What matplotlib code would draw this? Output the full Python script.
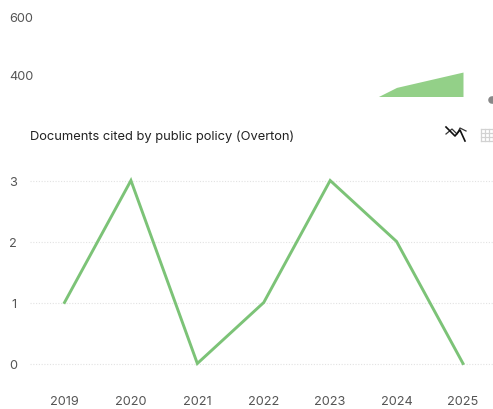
import matplotlib
matplotlib.use('Agg')
from matplotlib import pyplot as plt

plt.rcParams['font.family'] = ['Inter', 'DejaVu Sans']

years = [2019, 2020, 2021, 2022, 2023, 2024, 2025]
documents = [1, 3, 0, 1, 3, 2, 0]
y_ticks = [0, 1, 2, 3]

# the chart above is cut off, only its last part shows
upper_years = [2023, 2024, 2025]
upper_values = [245, 358, 410]
upper_ticks = [400, 600]

W, H = 493, 410
green = '#7cc377'
tick_color = '#555555'

fig = plt.figure(figsize=(W / 100, H / 100), dpi=100)
fig.patch.set_facecolor('white')


def axes_px(left, top, right, bottom):
    return fig.add_axes([left / W, 1 - bottom / H, (right - left) / W, (bottom - top) / H])


# upper chart
up = axes_px(30, 17, 493, 97)
up.fill_between(upper_years, upper_values, 0, color='#93d088', linewidth=0)
up.set_xlim(2019 - 34.5 / 66.4, 2025 + 30 / 66.4)
up.set_ylim(600 - 80 / 59 * 200, 600)
up.set_yticks(upper_ticks)
up.set_xticks([])
up.tick_params(axis='y', length=0, pad=-2.5, labelsize=9.2, labelcolor=tick_color)
for s in up.spines.values():
    s.set_visible(False)
up.patch.set_alpha(0)

# main chart
ax = axes_px(30, 181.5, 493, 364.5)
ax.plot(years, documents, color=green, linewidth=2.1, clip_on=False, solid_joinstyle='miter', zorder=3)
ax.set_xlim(2019 - 34.5 / 66.4, 2025 + 30 / 66.4)
ax.set_ylim(0, 3)
ax.set_xticks(years)
ax.set_yticks(y_ticks)
ax.tick_params(axis='x', length=0, pad=23, labelsize=9.2, labelcolor=tick_color)
ax.tick_params(axis='y', length=0, pad=9.5, labelsize=9.2, labelcolor=tick_color)
ax.grid(axis='y', color='#e2e2e2', linewidth=0.8, linestyle=(0, (1, 1.5)), clip_on=False)
ax.set_axisbelow(True)
for s in ax.spines.values():
    s.set_visible(False)
ax.patch.set_alpha(0)

fig.text(30 / W, 1 - 136.5 / H, 'Documents cited by public policy (Overton)', fontsize=9.3,
         color='#222222', va='center', ha='left')

# toolbar bits, pixel coordinates over the whole figure
overlay = fig.add_axes([0, 0, 1, 1])
overlay.set_xlim(0, W)
overlay.set_ylim(H, 0)
overlay.axis('off')
overlay.patch.set_alpha(0)
overlay.plot([446, 452, 457, 460, 466], [135, 130, 135, 129, 132], color='#333333', linewidth=0.9)
overlay.plot([446, 455, 460, 465], [128, 137, 131, 142], color='#111111', linewidth=1.2)
for gx in [481, 485, 489, 493]:
    overlay.plot([gx, gx], [130, 142], color='#d2d2d2', linewidth=0.9)
for gy in [130, 134, 138, 142]:
    overlay.plot([481, 493], [gy, gy], color='#d2d2d2', linewidth=0.9)
overlay.plot([491.5, 493], [100.5, 100.5], color='#888888', linewidth=5.5, solid_capstyle='round')

fig.savefig('out.png', dpi=100)
